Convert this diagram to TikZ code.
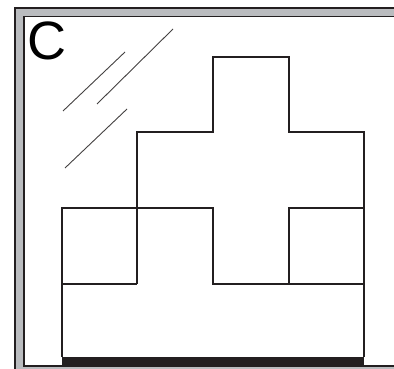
\documentclass[tikz,border=0pt]{standalone}
\usepackage{fontspec}
\setmainfont{Liberation Sans}
\definecolor{framegray}{RGB}{186,188,191}
\definecolor{inkdark}{RGB}{35,31,32}

\begin{document}
\begin{tikzpicture}[x=1pt,y=-1pt,
  wall/.style={draw=inkdark,line width=2.6pt,line join=miter},
  glint/.style={draw=inkdark!85,line width=0.9pt},
  rim/.style={draw=inkdark,line width=1.4pt}]
  \useasboundingbox (0,0) rectangle (394,369);

  % window frame
  \begin{scope}
    \clip (0,0) rectangle (394,369);
    \filldraw[rim,fill=framegray] (15,8) rectangle (420,390);
    \filldraw[rim,fill=white] (24,16.5) rectangle (410,366);
  \end{scope}

  \node[anchor=north west,inner sep=0pt,font=\fontsize{54}{54}\selectfont] (tag) at (27,22) {C};

  % glass reflections
  \draw[glint] (63,111) -- (125,52);
  \draw[glint] (97,104) -- (173,29);
  \draw[glint] (65,168) -- (127,109);

  % blocks
  \draw[wall] (137,284) |- (213,132) |- (289,57) |- (364,132) -- (364,357);
  \draw[wall] (62,357) |- (213,208) -- (213,284) -- (364,284);
  \draw[wall] (62,284) -- (137,284);
  \draw[wall] (289,284) |- (364,208);
  \fill[inkdark] (62,357) rectangle (364,365);
\end{tikzpicture}
\end{document}
